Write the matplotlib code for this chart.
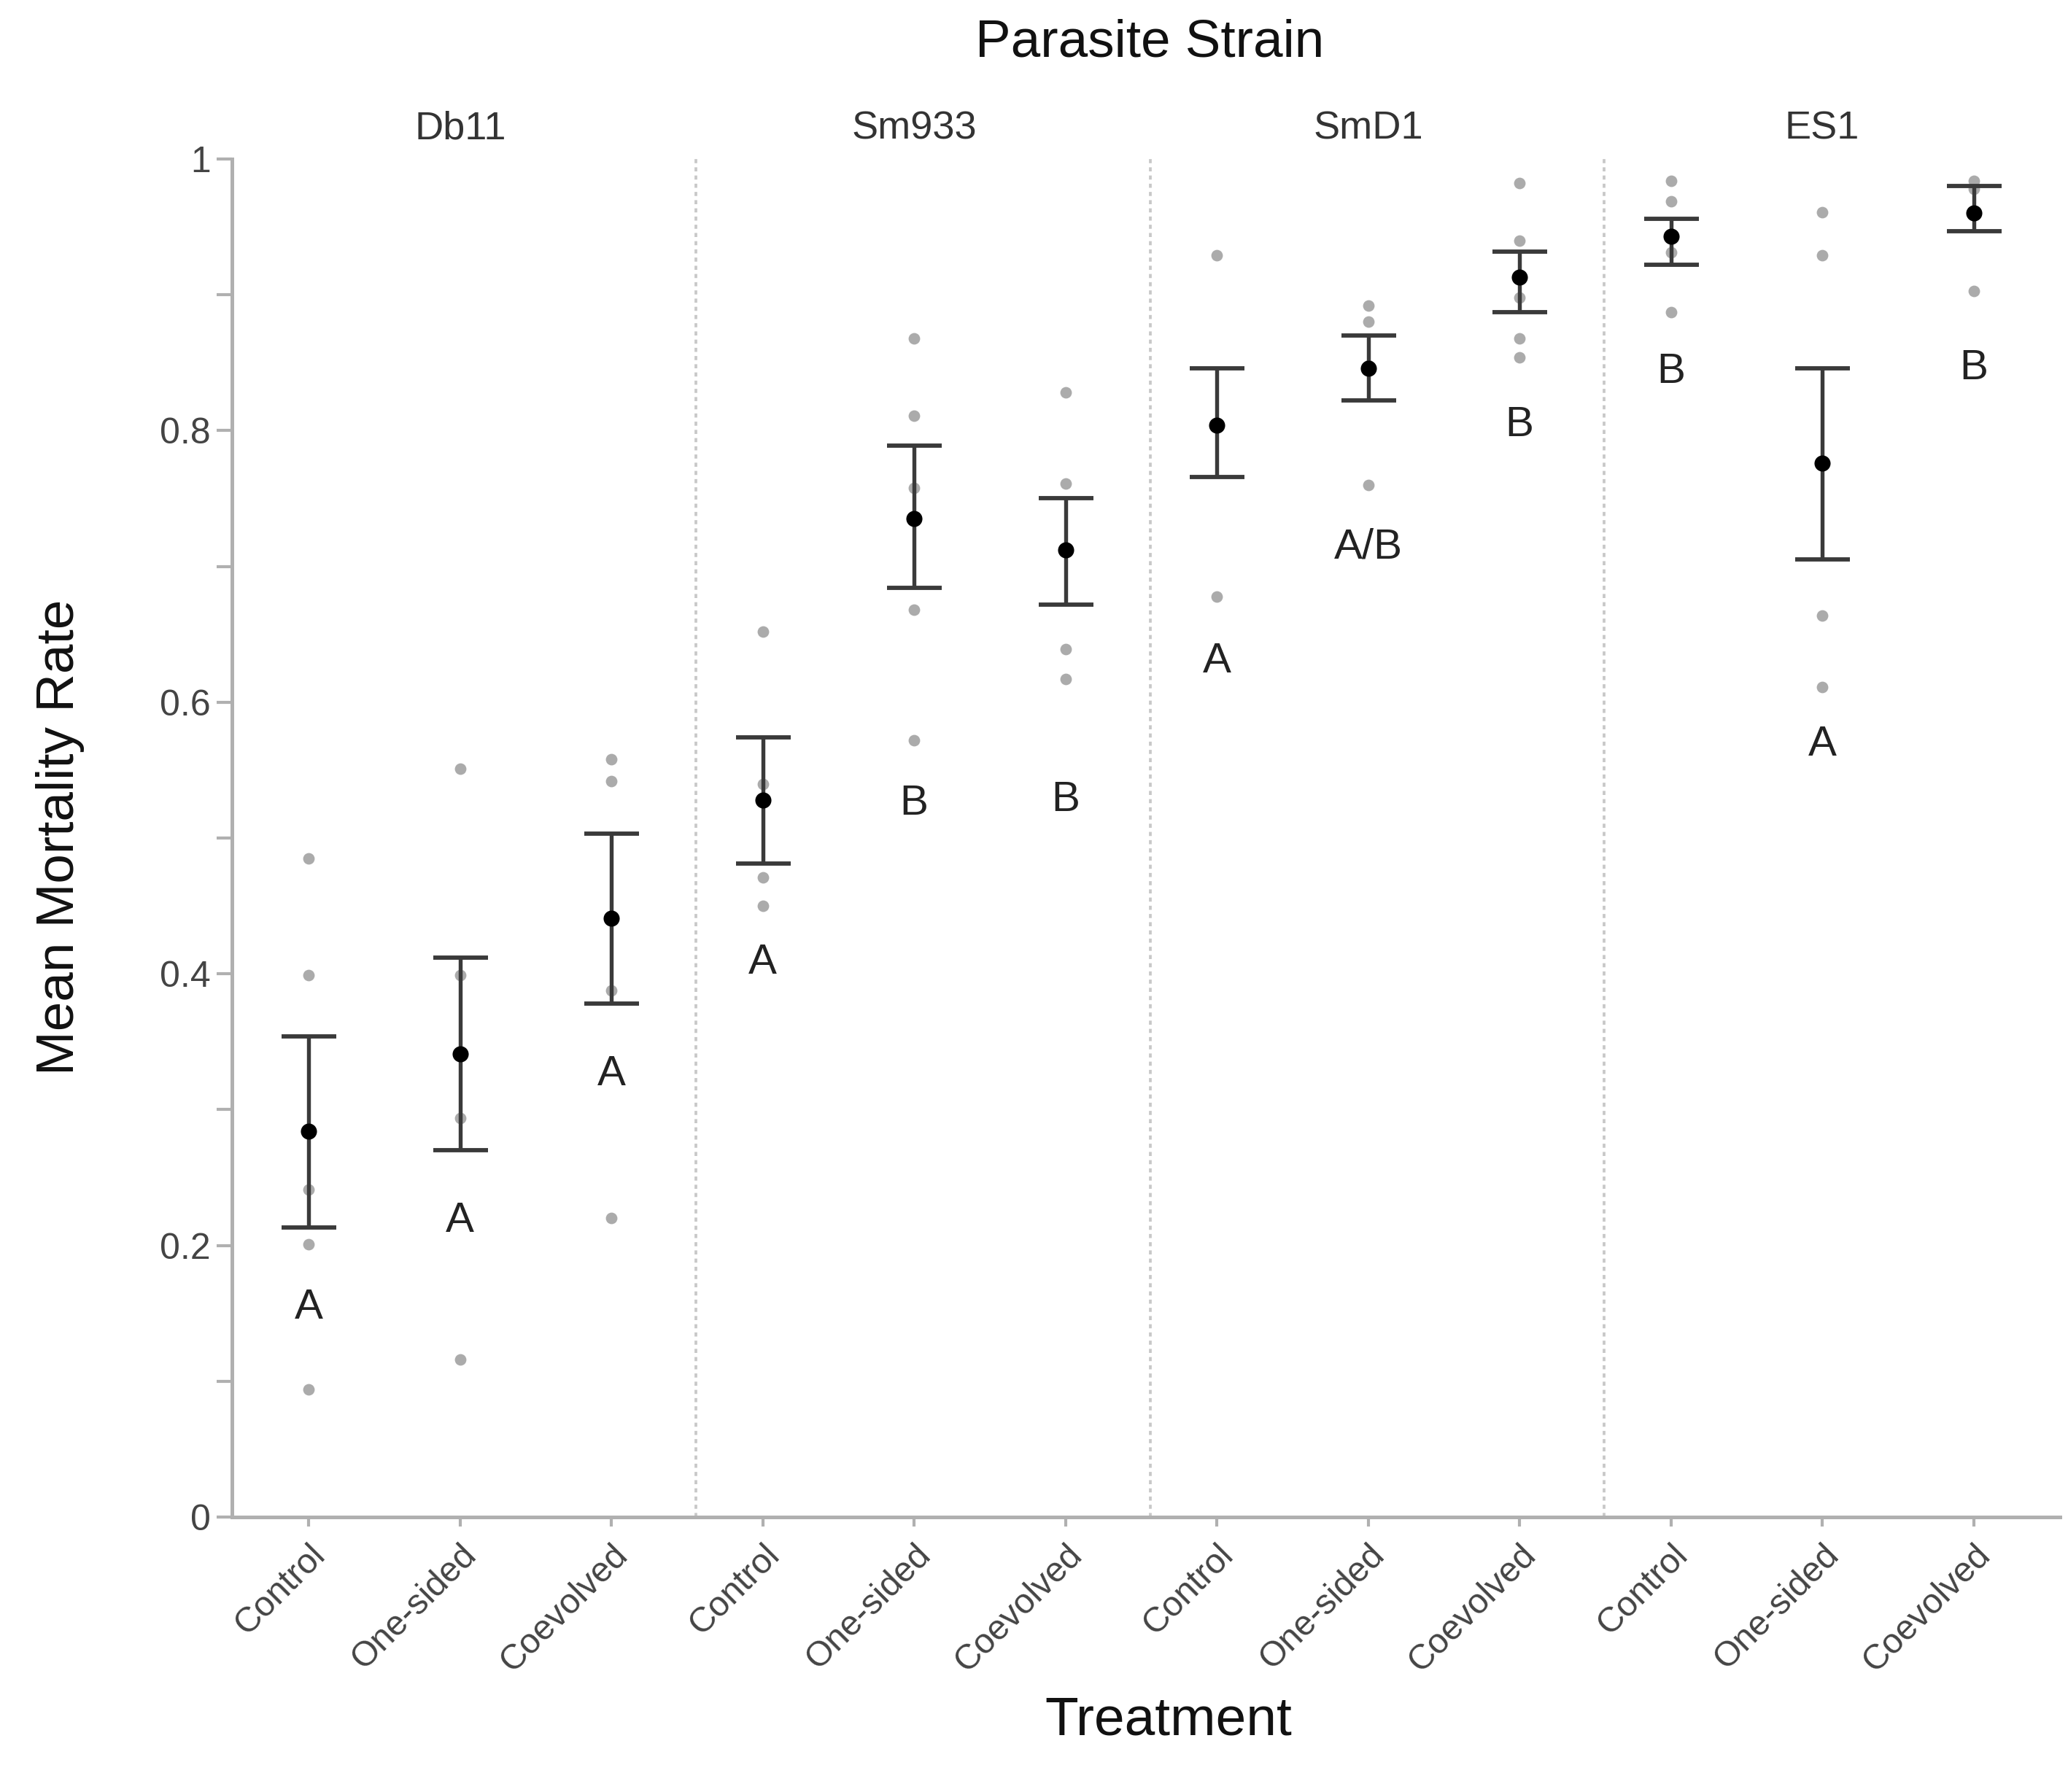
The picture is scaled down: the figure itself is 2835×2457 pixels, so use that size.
import matplotlib
matplotlib.use("Agg")
import matplotlib.pyplot as plt
from matplotlib.ticker import MultipleLocator, FixedLocator

plt.rcParams['font.family'] = ['Liberation Sans', 'DejaVu Sans']

strains = ["Db11", "Sm933", "SmD1", "ES1"]
treatments = ["Control", "One-sided", "Coevolved"]

means = [0.284, 0.341, 0.441, 0.528, 0.735, 0.712, 0.804, 0.846, 0.913, 0.943, 0.776, 0.960]
ci_low = [0.213, 0.270, 0.378, 0.481, 0.684, 0.672, 0.766, 0.822, 0.887, 0.922, 0.705, 0.947]
ci_high = [0.354, 0.412, 0.503, 0.574, 0.789, 0.750, 0.846, 0.870, 0.932, 0.956, 0.846, 0.980]

raw_points = [
    [0.485, 0.399, 0.241, 0.201, 0.094],
    [0.551, 0.399, 0.294, 0.116],
    [0.558, 0.542, 0.388, 0.220],
    [0.652, 0.540, 0.471, 0.450],
    [0.868, 0.811, 0.758, 0.668, 0.572],
    [0.828, 0.761, 0.712, 0.639, 0.617],
    [0.929, 0.678],
    [0.892, 0.880, 0.848, 0.760],
    [0.982, 0.940, 0.898, 0.868, 0.854],
    [0.984, 0.969, 0.931, 0.887],
    [0.961, 0.929, 0.664, 0.611],
    [0.984, 0.978, 0.903],
]

letters = ["A", "A", "A", "A", "B", "B", "A", "A/B", "B", "B", "A", "B"]
letter_y = [0.154, 0.218, 0.326, 0.408, 0.525, 0.528, 0.630, 0.714, 0.804, 0.843, 0.569, 0.846]

fig = plt.figure(figsize=(9.45, 8.19), dpi=300)
ax = fig.add_axes([0.1122, 0.1534, 0.8839, 0.7579])

n_t = len(treatments)
xs = []
labels = []
for p, s in enumerate(strains):
    for j, t in enumerate(treatments):
        xs.append(p * n_t + j)
        labels.append(t)

# raw points
for x, pts in zip(xs, raw_points):
    ax.plot([x] * len(pts), pts, 'o', color='#ababab', markersize=3.8,
            markeredgewidth=0, zorder=2, clip_on=False)

# error bars
for x, m, lo, hi in zip(xs, means, ci_low, ci_high):
    ax.errorbar([x], [m], yerr=[[m - lo], [hi - m]], fmt='none',
                ecolor='#3a3a3a', elinewidth=1.3, capsize=9, capthick=1.4,
                zorder=3)
ax.plot(xs, means, 'o', color='black', markersize=5.3, markeredgewidth=0,
        zorder=4, linestyle='none')

# letters
for x, lab, ly in zip(xs, letters, letter_y):
    ax.text(x, ly, lab, ha='center', va='center', fontsize=14, color='#222222',
            zorder=5)

# dividers
for p in range(1, len(strains)):
    ax.axvline(p * n_t - 0.44, color='#c8c8c8', linestyle=(0, (1.5, 1.5)),
               linewidth=0.9, zorder=1)

# strain headers
for p, s in enumerate(strains):
    ax.text(p * n_t + 1, 1.022, s, ha='center', va='center', fontsize=13,
            color='#333333', transform=ax.get_xaxis_transform())

ax.set_xlim(-0.507, len(strains) * n_t - 0.43)
ax.set_ylim(0, 1)

ax.set_xticks(xs)
ax.set_xticklabels(labels, rotation=45, ha='right', va='top',
                   rotation_mode='anchor', fontsize=11.5, color='#444444')
ax.yaxis.set_major_locator(FixedLocator([0, 0.2, 0.4, 0.6, 0.8, 1.0]))
ax.set_yticklabels(["0", "0.2", "0.4", "0.6", "0.8", "1"], fontsize=12,
                   color='#444444')
ax.yaxis.set_minor_locator(MultipleLocator(0.1))

for side in ['top', 'right']:
    ax.spines[side].set_visible(False)
for side in ['left', 'bottom']:
    ax.spines[side].set_color('#b0b0b0')
    ax.spines[side].set_linewidth(1.2)

ax.tick_params(axis='y', which='both', direction='out', length=5,
               width=1, color='#b0b0b0', pad=2)
ax.tick_params(axis='x', direction='out', length=3, width=1,
               color='#b0b0b0', pad=4)

fig.text(0.556, 0.976, "Parasite Strain", ha='center', va='center',
         fontsize=17.5, color='#111111')
fig.text(0.565, 0.040, "Treatment", ha='center', va='center', fontsize=18,
         color='#111111')
fig.text(0.029, 0.533, "Mean Mortality Rate", ha='center', va='center',
         rotation=90, fontsize=17.5, color='#111111')

fig.savefig("out.png", dpi=300)
